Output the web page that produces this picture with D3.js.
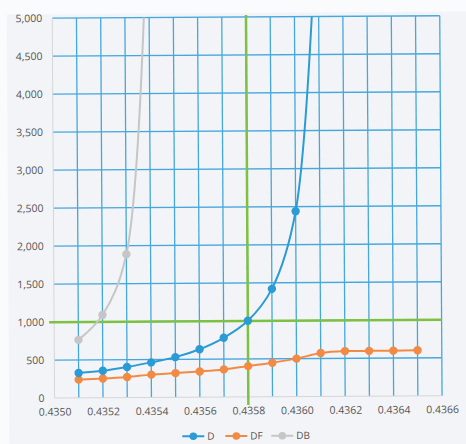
<!DOCTYPE html>
<html>
<head>
<meta charset="utf-8">
<script src="https://cdn.jsdelivr.net/npm/d3@7"></script>
<style>
  html, body { margin: 0; padding: 0; background: #fafbfc; }
  svg { display: block; }
  text { font-family: "Open Sans", "Noto Sans", sans-serif; fill: #555; }
</style>
</head>
<body>
<svg id="chart" width="466" height="444"></svg>
<script>
// Series D
const xD  = [0.4351, 0.4352, 0.4353, 0.4354, 0.4355, 0.4356, 0.4357, 0.4358, 0.4359, 0.4360, 0.4361];
const yD  = [329, 355, 403, 462, 529, 631, 780, 1002, 1420, 2439, 6800];
// Series DF
const xDF = [0.4351, 0.4352, 0.4353, 0.4354, 0.4355, 0.4356, 0.4357, 0.4358, 0.4359, 0.4360, 0.4361, 0.4362, 0.4363, 0.4364, 0.4365];
const yDF = [241, 253, 272, 301, 319, 339, 364, 405, 448, 500, 571, 595, 596, 597, 600];
// Series DB
const xDB = [0.4351, 0.4352, 0.4353, 0.4354];
const yDB = [764, 1090, 1886, 7000];

// Axis ticks
const xTicks = [0.4350, 0.4352, 0.4354, 0.4356, 0.4358, 0.4360, 0.4362, 0.4364, 0.4366];
const xGrid  = d3.range(0, 17).map(i => +(0.4350 + i * 0.0001).toFixed(4));
const yTicks = [0, 500, 1000, 1500, 2000, 2500, 3000, 3500, 4000, 4500, 5000];

// Reference lines
const refX = 0.4358;
const refY = 1000;

const seriesNames  = ["D", "DF", "DB"];
const seriesColors = ["#2b9bd6", "#f28a44", "#c6c6c6"];

const svg = d3.select("#chart");
const root = svg.append("g").attr("transform", "rotate(-0.35, 233, 222)");

// paper tone
root.append("rect").attr("x", 8).attr("y", 13).attr("width", 470).attr("height", 440).attr("fill", "#f3f4f7");

const L = 53.5, R = 441, T = 17, B = 397;
const x = d3.scaleLinear().domain([0.4350, 0.4366]).range([L, R]);
const y = d3.scaleLinear().domain([0, 5000]).range([B, T]);

root.append("defs").append("clipPath").attr("id", "plotClip")
  .append("rect").attr("x", L).attr("y", T).attr("width", R - L).attr("height", B - T);

// grid
const gridColor = "#45a8dd";
root.append("g").selectAll("line.h").data(yTicks.filter(d => d > 0)).join("line")
  .attr("x1", L).attr("x2", R).attr("y1", d => y(d)).attr("y2", d => y(d))
  .attr("stroke", gridColor).attr("stroke-width", 1.3);
root.append("g").selectAll("line.v").data(xGrid.filter(d => d > 0.4350)).join("line")
  .attr("x1", d => x(d)).attr("x2", d => x(d)).attr("y1", T).attr("y2", B)
  .attr("stroke", gridColor).attr("stroke-width", 1.3);

// axis lines
root.append("line").attr("x1", L).attr("x2", R).attr("y1", B).attr("y2", B)
  .attr("stroke", "#d4d6da").attr("stroke-width", 1);
root.append("line").attr("x1", L).attr("x2", L).attr("y1", T).attr("y2", B)
  .attr("stroke", "#d4d6da").attr("stroke-width", 1);

// axes labels via d3 axes
const yAxis = d3.axisLeft(y).tickValues(yTicks).tickSize(0).tickPadding(10).tickFormat(d3.format(","));
const gy = root.append("g").attr("transform", `translate(${L},0)`).call(yAxis);
gy.select(".domain").remove();
gy.selectAll("text").style("font-size", "10.5px").attr("fill", "#555");

const xAxis = d3.axisBottom(x).tickValues(xTicks).tickSize(0).tickPadding(10).tickFormat(d3.format(".4f"));
const gx = root.append("g").attr("transform", `translate(0,${B})`).call(xAxis);
gx.select(".domain").remove();
gx.selectAll("text").style("font-size", "10.5px").attr("fill", "#555");

// reference lines
const green = "#7dc143";
root.append("line").attr("x1", L - 5).attr("x2", R).attr("y1", y(refY)).attr("y2", y(refY))
  .attr("stroke", green).attr("stroke-width", 2.5);
root.append("line").attr("x1", x(refX)).attr("x2", x(refX)).attr("y1", T - 2).attr("y2", B + 8)
  .attr("stroke", green).attr("stroke-width", 2.5);

// series
const series = [
  { xs: xD,  ys: yD,  color: seriesColors[0] },
  { xs: xDF, ys: yDF, color: seriesColors[1] },
  { xs: xDB, ys: yDB, color: seriesColors[2] }
];
const line = d3.line().x(d => x(d[0])).y(d => y(d[1])).curve(d3.curveCatmullRom.alpha(0.5));
const plot = root.append("g").attr("clip-path", "url(#plotClip)");
// DB underneath, then DF, then D
[2, 1, 0].forEach(i => {
  const s = series[i];
  const pts = s.xs.map((v, k) => [v, s.ys[k]]);
  plot.append("path").datum(pts).attr("d", line)
    .attr("fill", "none").attr("stroke", s.color).attr("stroke-width", 2);
  plot.append("g").selectAll("circle").data(pts.filter(p => p[1] <= 5000)).join("circle")
    .attr("cx", p => x(p[0])).attr("cy", p => y(p[1])).attr("r", 4.2)
    .attr("fill", s.color);
});

// legend
const legendX = [181, 224, 270];
const lg = root.append("g").attr("transform", "translate(0,436)");
seriesNames.forEach((name, i) => {
  const g = lg.append("g").attr("transform", `translate(${legendX[i]},0)`);
  g.append("line").attr("x1", 0).attr("x2", 22).attr("y1", 0).attr("y2", 0)
    .attr("stroke", seriesColors[i]).attr("stroke-width", 2);
  g.append("circle").attr("cx", 11).attr("cy", 0).attr("r", 3.8).attr("fill", seriesColors[i]);
  g.append("text").attr("x", 25).attr("y", 0).attr("dy", "0.35em")
    .style("font-size", "10px").attr("fill", "#555").text(name);
});
</script>
</body>
</html>
